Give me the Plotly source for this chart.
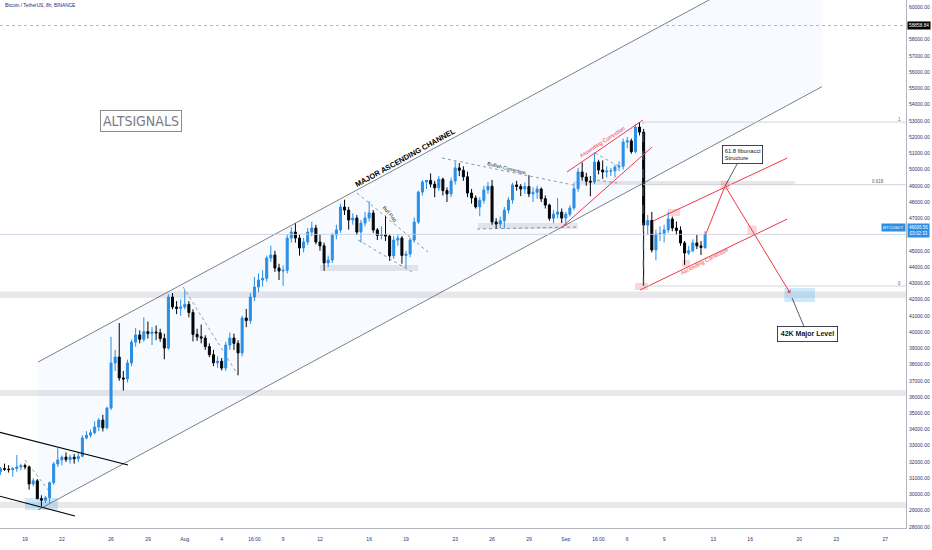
import pandas as pd
import plotly.graph_objects as go

# 8h candles, BTC/USDT, 17 Jul 2021 00:00 -> 12 Sep 2021 08:00 (three per day, one row per day)
open_ = [
    31400, 31600, 31550,  31530, 31600, 31700,  31780, 31700, 30650,  30840, 29750, 29650,
    29800, 30720, 31880,  32130, 32300, 32150,  32290, 32200, 32350,  33480, 33650, 33800,
    34150, 34580, 34100,  35320, 38090, 38460,  37170, 37110, 38090,  39380, 39820, 39550,
    40020, 39900, 40000,  39950, 39600, 39010,  42150, 41540, 41450,  41540, 41700, 41200,
    39850, 39700, 39630,  39100, 38600, 38100,  38200, 37780, 39200,  39630, 39300, 38710,
    40860, 40700, 42150,  42770, 43200, 43300,  44550, 44740, 43940,  43750, 43800, 45780,
    46150, 45780, 45170,  45540, 46150, 46400,  45540, 45300, 44250,  44430, 45970, 46280,
    47690, 47500, 46890,  47010, 46150, 46700,  47020, 47320, 46280,  45940, 46000, 45900,
    44690, 45660, 45780,  44710, 44800, 45660,  46770, 48610, 49230,  49330, 49100, 48870,
    49400, 48700, 48500,  49290, 50100, 49950,  49550, 48550, 48250,  47700, 48100, 48740,
    48970, 46770, 46650,  46850, 47500, 48120,  49050, 48950, 48800,  48950, 48500, 48600,
    48800, 48200, 47810,  47000, 47250, 47380,  47010, 47250, 47630,  48820, 49850, 49540,
    49280, 49230, 50460,  49970, 49850, 49900,  49920, 50150, 50200,  51690, 51760, 51100,
    52610, 52300, 46580,  46860, 45050, 46030,  46070, 46280, 46950,  46400, 46250, 45480,
    44860, 45000, 45480,  45300, 45200,
]
high = [
    31700, 31900, 31800,  31700, 32430, 31900,  31900, 31750, 31000,  30950, 29950, 29900,
    30800, 32000, 32860,  32400, 32590, 32450,  32500, 32600, 33650,  33900, 34000, 34500,
    34700, 34900, 35400,  39700, 38900, 40550,  37600, 38300, 39540,  40250, 40100, 40900,
    40640, 40300, 40400,  40200, 39900, 42320,  42400, 41900, 42000,  42600, 41900, 41400,
    40200, 40460, 39800,  39300, 38900, 38500,  38400, 39400, 39970,  39900, 39500, 41000,
    41420, 42400, 43390,  43600, 43800, 44700,  45310, 45000, 44200,  44100, 46000, 46450,
    46700, 46000, 45800,  46400, 46780, 46600,  46000, 45500, 44700,  46100, 46600, 47890,
    48140, 47700, 47300,  47200, 46900, 47390,  48050, 47500, 46400,  46500, 47160, 46000,
    45900, 46000, 45900,  45000, 45800, 47050,  48700, 49350, 49350,  49760, 49300, 49600,
    49500, 48900, 49500,  50500, 50400, 50200,  49870, 48800, 48400,  48300, 49000, 49240,
    49360, 47000, 47100,  47700, 48300, 49180,  49300, 49100, 49200,  49650, 48900, 49000,
    48900, 48400, 47900,  47500, 48250, 47600,  47400, 47800, 49150,  50100, 50440, 49800,
    49600, 51050, 50600,  50560, 50200, 50100,  50300, 50500, 51900,  52000, 51900, 52780,
    52920, 52500, 47200,  47390, 46300, 46500,  46600, 47400, 47100,  46800, 46500, 45600,
    45300, 45700, 45980,  45600, 46200,
]
low = [
    31200, 31450, 31350,  31100, 31400, 31500,  31550, 30300, 30500,  29700, 29280, 29480,
    29480, 30600, 31700,  31800, 32000, 31900,  31900, 32000, 32300,  33400, 33500, 33700,
    33900, 33880, 34000,  35200, 37600, 37000,  36400, 36900, 37900,  39100, 39300, 39400,
    39600, 39200, 39500,  39400, 38320, 38900,  41400, 41100, 41000,  41400, 40900, 39420,
    39450, 39300, 38900,  38450, 37900, 37800,  37640, 37600, 38900,  38900, 37330, 38500,
    40300, 40500, 41900,  42450, 42800, 43100,  44300, 43700, 43200,  42840, 43600, 45500,
    45500, 44700, 44900,  45350, 45900, 45400,  45000, 43770, 44000,  44250, 45700, 46100,
    47200, 46300, 46600,  45970, 45500, 46500,  46800, 46100, 45660,  45700, 45600, 44380,
    44500, 45300, 44200,  43950, 44600, 45500,  46650, 48400, 48800,  48900, 48290, 48700,
    48400, 48000, 48300,  49070, 49600, 49300,  48300, 47900, 47600,  47130, 47900, 48500,
    46600, 46350, 46400,  46370, 47300, 47900,  48700, 48360, 48500,  48300, 48000, 48200,
    48000, 47600, 46850,  46700, 47000, 46710,  46510, 47100, 47500,  48630, 49300, 49000,
    48350, 49100, 49700,  49420, 49500, 49600,  49500, 49900, 50000,  51300, 50970, 51000,
    52100, 42830, 46000,  44900, 44410, 45600,  45510, 46100, 46200,  46000, 45300, 44130,
    44740, 44900, 45100,  44740, 45100,
]
close = [
    31600, 31550, 31530,  31600, 31700, 31780,  31700, 30650, 30840,  29750, 29650, 29800,
    30720, 31880, 32130,  32300, 32150, 32290,  32200, 32350, 33480,  33650, 33800, 34150,
    34580, 34100, 35320,  38090, 38460, 37170,  37110, 38090, 39380,  39820, 39550, 40020,
    39900, 40000, 39950,  39600, 39010, 42150,  41540, 41450, 41540,  41700, 41200, 39850,
    39700, 39630, 39100,  38600, 38100, 38200,  37780, 39200, 39630,  39300, 38710, 40860,
    40700, 42150, 42770,  43200, 43300, 44550,  44740, 43940, 43750,  43800, 45780, 46150,
    45780, 45170, 45540,  46150, 46400, 45540,  45300, 44250, 44430,  45970, 46280, 47690,
    47500, 46890, 47010,  46150, 46700, 47020,  47320, 46280, 45940,  46000, 45900, 44690,
    45660, 45780, 44710,  44800, 45660, 46770,  48610, 49230, 49330,  49100, 48870, 49400,
    48700, 48500, 49290,  50100, 49950, 49550,  48550, 48250, 47700,  48100, 48740, 48970,
    46770, 46650, 46850,  47500, 48120, 49050,  48950, 48800, 48950,  48500, 48600, 48800,
    48200, 47810, 47000,  47250, 47380, 47010,  47250, 47630, 48820,  49850, 49540, 49280,
    49230, 50460, 49970,  49850, 49900, 49920,  50150, 50200, 51690,  51760, 51100, 52610,
    52300, 46580, 46860,  45050, 46030, 46070,  46280, 46950, 46400,  46250, 45480, 44860,
    45000, 45480, 45300,  45200, 46006.56,
]
times = pd.date_range("2021-07-17 00:00", periods=len(close), freq="8h")

x_range = ["2021-07-16 23:10", "2021-09-28 16:20"]
y_range = [27938, 60431]

tick_dates = ["2021-07-19", "2021-07-22", "2021-07-26", "2021-07-29", "2021-08-01",
              "2021-08-04", "2021-08-06 16:00", "2021-08-09", "2021-08-12", "2021-08-16",
              "2021-08-19", "2021-08-23", "2021-08-26", "2021-08-29", "2021-09-01",
              "2021-09-03 16:00", "2021-09-06", "2021-09-09", "2021-09-13", "2021-09-16",
              "2021-09-20", "2021-09-23", "2021-09-27"]
tick_text = ["19", "22", "26", "29", "Aug", "4", "16:00", "9", "12", "16", "19", "23",
             "26", "29", "Sep", "16:00", "6", "9", "13", "16", "20", "23", "27"]
# 59000 and 46000 sit under the price boxes on the axis, so they are not labelled
price_ticks = [p for p in range(28000, 60001, 1000) if p not in (59000, 46000)]

# analyst drawings, in time / price
channel_t = ["2021-07-20 01:23", "2021-09-21 20:24"]
channel_upper = [38150, 64185]
channel_lower = [29050, 55100]

black_lines = [
    (["2021-07-16 20:00", "2021-07-27 09:07"], [33850, 31815]),
    (["2021-07-16 20:00", "2021-07-23 01:38"], [29920, 28676]),
]
dotted_lines = [
    (["2021-07-19 00:00", "2021-07-21 02:00"], [32120, 30090]),
    (["2021-07-31 20:40", "2021-08-05 07:55"], [42770, 37354]),
    (["2021-08-15 00:15", "2021-08-20 19:00"], [48554, 44923]),
    (["2021-08-15 02:20", "2021-08-19 11:45"], [45662, 43692]),
    (["2021-08-21 22:20", "2021-09-01 14:10"], [50708, 49046]),
    (["2021-08-24 18:40", "2021-09-01 21:50"], [46338, 46461]),
    (["2021-09-03 09:10", "2021-09-05 09:50"], [51015, 50154]),
    (["2021-09-03 13:00", "2021-09-05 04:05"], [49354, 49169]),
]
red_lines = [
    (["2021-09-01 02:25", "2021-09-07 06:45"], [49846, 53046]),
    (["2021-08-31 16:35", "2021-09-08 00:30"], [46462, 51385]),
    (["2021-09-08 02:25", "2021-09-19 00:30"], [46831, 50708]),
    (["2021-09-07 01:00", "2021-09-19 00:30"], [42585, 46954]),
]
path_t = ["2021-09-12 07:55", "2021-09-13 23:00"]
path_p = [45908, 48985]
target_t = "2021-09-19 06:00"
target_p = 42400
marks_t = ["2021-09-13 23:00", "2021-09-16 03:40"]
marks_p = [49046, 46277]

full_bands = [(42092, 42492), (36061, 36430), (29169, 29538)]
gray_boxes = [
    ("2021-08-12 00:00", "2021-08-19 23:30", 43754, 44123),
    ("2021-08-24 20:40", "2021-09-02 00:00", 46338, 46708),
    ("2021-09-01 14:10", "2021-09-19 15:35", 49046, 49292),
]
blue_boxes = [
    ("2021-09-18 18:45", "2021-09-21 06:40", 41846, 42708),
    ("2021-07-19 00:00", "2021-07-21 16:25", 29046, 29784),
]
pink_boxes = [
    ("2021-09-06 15:10", "2021-09-07 16:35", 42585, 43015),
    ("2021-09-09 07:40", "2021-09-10 07:10", 47138, 47569),
    ("2021-09-10 11:00", "2021-09-11 02:40", 44000, 44431),
]
fib_t = "2021-09-07 06:45"
fib_levels = [52920, 49066, 42830]
fib_names = ["1", "0.618", "0"]
high_line = 58858.84
last_price = 46006.56

BLUE = "#2b8fe6"
RED = "#f23645"
INK = "#131722"
AXIS_TXT = "#2b3070"
FONT = "Liberation Sans, Arial, sans-serif"

fig = go.Figure()

fig.add_trace(go.Scatter(
    x=[channel_t[0], channel_t[1], channel_t[1], channel_t[0]],
    y=[channel_upper[0], channel_upper[1], channel_lower[1], channel_lower[0]],
    fill="toself", fillcolor="rgba(33,150,243,0.035)", line=dict(width=0),
    mode="lines", hoverinfo="skip", showlegend=False))
for ys in (channel_upper, channel_lower):
    fig.add_trace(go.Scatter(x=channel_t, y=ys, mode="lines",
                             line=dict(color="#5d606b", width=0.8),
                             hoverinfo="skip", showlegend=False))
for ts, ps in black_lines:
    fig.add_trace(go.Scatter(x=ts, y=ps, mode="lines", line=dict(color="#000000", width=1.1),
                             hoverinfo="skip", showlegend=False))
for ts, ps in dotted_lines:
    fig.add_trace(go.Scatter(x=ts, y=ps, mode="lines",
                             line=dict(color="#6a6d78", width=0.7, dash="dot"),
                             hoverinfo="skip", showlegend=False))
for ts, ps in red_lines:
    fig.add_trace(go.Scatter(x=ts, y=ps, mode="lines", line=dict(color=RED, width=1),
                             hoverinfo="skip", showlegend=False))

# fib retracement
fig.add_trace(go.Scatter(x=[fib_t, fib_t], y=[fib_levels[2], fib_levels[0]], mode="lines",
                         line=dict(color="#9598a1", width=0.7, dash="dash"),
                         hoverinfo="skip", showlegend=False))
for lv in fib_levels:
    fig.add_trace(go.Scatter(x=[fib_t, x_range[1]], y=[lv, lv], mode="lines",
                             line=dict(color="#c8cad0", width=0.8),
                             hoverinfo="skip", showlegend=False))

# horizontal price lines
fig.add_trace(go.Scatter(x=x_range, y=[high_line, high_line], mode="lines",
                         line=dict(color="#9598a1", width=0.7, dash="dot"),
                         hoverinfo="skip", showlegend=False))
fig.add_trace(go.Scatter(x=x_range, y=[last_price, last_price], mode="lines",
                         line=dict(color="#c3cbe0", width=0.8),
                         hoverinfo="skip", showlegend=False))

fig.add_trace(go.Candlestick(
    x=times, open=open_, high=high, low=low, close=close,
    increasing=dict(line=dict(color=BLUE, width=1), fillcolor=BLUE),
    decreasing=dict(line=dict(color="#000000", width=1), fillcolor="#000000"),
    whiskerwidth=0, hoverinfo="skip", showlegend=False))

fig.add_trace(go.Scatter(x=path_t, y=path_p, mode="lines", line=dict(color=RED, width=1),
                         hoverinfo="skip", showlegend=False))
fig.add_trace(go.Scatter(x=marks_t, y=marks_p, mode="markers",
                         marker=dict(symbol="square", size=9, color="rgba(242,54,69,0.22)"),
                         hoverinfo="skip", showlegend=False))

shapes = []
for y0, y1 in full_bands:
    shapes.append(dict(type="rect", xref="paper", yref="y", x0=0, x1=1, y0=y0, y1=y1,
                       fillcolor="rgba(149,152,161,0.22)", line=dict(width=0), layer="below"))
for x0, x1, y0, y1 in gray_boxes:
    shapes.append(dict(type="rect", xref="x", yref="y", x0=x0, x1=x1, y0=y0, y1=y1,
                       fillcolor="rgba(149,152,161,0.22)", line=dict(width=0), layer="below"))
for x0, x1, y0, y1 in blue_boxes:
    shapes.append(dict(type="rect", xref="x", yref="y", x0=x0, x1=x1, y0=y0, y1=y1,
                       fillcolor="rgba(33,150,243,0.22)", line=dict(width=0), layer="below"))
for x0, x1, y0, y1 in pink_boxes:
    shapes.append(dict(type="rect", xref="x", yref="y", x0=x0, x1=x1, y0=y0, y1=y1,
                       fillcolor="rgba(242,54,69,0.2)", line=dict(width=0), layer="below"))


def label(text, x, y, angle=0, size=5, color=INK, **kw):
    return dict(text=text, xref="paper", yref="paper", x=x, y=y, xanchor="center",
                yanchor="middle", showarrow=False, textangle=angle,
                font=dict(family=kw.pop("family", FONT), size=size, color=color), **kw)


annotations = [
    dict(text="Bitcoin / TetherUS, 8h, BINANCE", xref="paper", yref="paper", x=0.003, y=0.99,
         xanchor="left", yanchor="middle", showarrow=False,
         font=dict(family=FONT, size=4.8, color="#1c2a7a")),
    label("ALTSIGNALS", 0.1556, 0.7699, size=14, color="#787b86",
          family="Liberation Sans Narrow, DejaVu Sans Condensed, Arial Narrow, sans-serif",
          bordercolor="#8a8d96", borderwidth=1, borderpad=2, bgcolor="#ffffff"),
    label("<b>MAJOR ASCENDING CHANNEL</b>", 0.448, 0.7008, angle=-29, size=7.5,
          color="#000000"),
    label("Bull Flag", 0.4294, 0.5947, angle=50, size=4.8),
    label("Bullish Correction", 0.5596, 0.6818, angle=14, size=5),
    label("Ascending Correction", 0.6645, 0.731, angle=-33, size=5.5, color=RED),
    label("Ascending Correction", 0.778, 0.5057, angle=-27, size=5.5, color=RED),
    dict(text="61.8 fibonacci<br>Structure", x="2021-09-13 23:00", y=48985, ax=17, ay=-31,
         showarrow=True, arrowhead=0, arrowwidth=0.7, arrowcolor=INK, align="left",
         font=dict(family=FONT, size=5.8, color=INK),
         bordercolor=INK, borderwidth=0.8, borderpad=2, bgcolor="#ffffff"),
    dict(text="<b>42K Major Level</b>", x="2021-09-19 09:50", y=42092, ax=15, ay=36,
         showarrow=True, arrowhead=0, arrowwidth=0.7, arrowcolor=INK,
         font=dict(family=FONT, size=7, color=INK),
         bordercolor=INK, borderwidth=0.8, borderpad=3, bgcolor="#ffffff"),
    dict(text="", x=target_t, y=target_p, ax=-65, ay=-107, showarrow=True, arrowhead=1,
         arrowsize=0.8, arrowwidth=1, arrowcolor=RED),
    dict(text="58858.84", xref="paper", yref="y", x=1, y=high_line, xanchor="left",
         yanchor="middle", showarrow=False, xshift=1, bgcolor="#000000", borderpad=1,
         font=dict(family=FONT, size=4.8, color="#ffffff")),
    dict(text="46006.56<br>03:02:33", xref="paper", yref="y", x=1, y=last_price,
         xanchor="left", yanchor="middle", showarrow=False, xshift=1, yshift=4,
         bgcolor=BLUE, borderpad=1, font=dict(family=FONT, size=4.5, color="#ffffff")),
    dict(text="BTCUSDT", xref="paper", yref="y", x=1, y=last_price, yshift=7,
         xanchor="right", yanchor="middle", showarrow=False, bgcolor=BLUE, borderpad=1,
         font=dict(family=FONT, size=4.3, color="#ffffff")),
]
for name, lv in zip(fib_names, fib_levels):
    annotations.append(dict(text=name, xref="paper", yref="y",
                            x=0.997 if name != "0.618" else 0.978, y=lv, yshift=3,
                            xanchor="right", yanchor="middle", showarrow=False,
                            font=dict(family=FONT, size=4.5, color="#5d606b")))

fig.update_layout(
    width=932, height=550,
    margin=dict(l=0, r=26, t=0, b=22, pad=0),
    paper_bgcolor="#ffffff", plot_bgcolor="#ffffff",
    showlegend=False,
    shapes=shapes,
    annotations=annotations,
    xaxis=dict(type="date", range=x_range, tickvals=tick_dates, ticktext=tick_text,
               tickfont=dict(family=FONT, size=5, color=AXIS_TXT),
               showgrid=False, zeroline=False, showline=True, linecolor="#b2b5be",
               linewidth=1, ticks="", ticklen=0, ticklabelstandoff=6,
               rangeslider=dict(visible=False), fixedrange=True, automargin=False),
    yaxis=dict(side="right", range=y_range, tickvals=price_ticks, tickformat=".2f",
               tickfont=dict(family=FONT, size=5, color=AXIS_TXT),
               showgrid=False, zeroline=False, showline=True, linecolor="#b2b5be",
               linewidth=1, ticks="", ticklen=0, ticklabelstandoff=1, fixedrange=True,
               automargin=False),
)

# page body has an 8px default margin; drop it so the chart fills the window
fig.write_html("out.html", config={"displayModeBar": False},
               post_script="document.body.style.margin='0';")
